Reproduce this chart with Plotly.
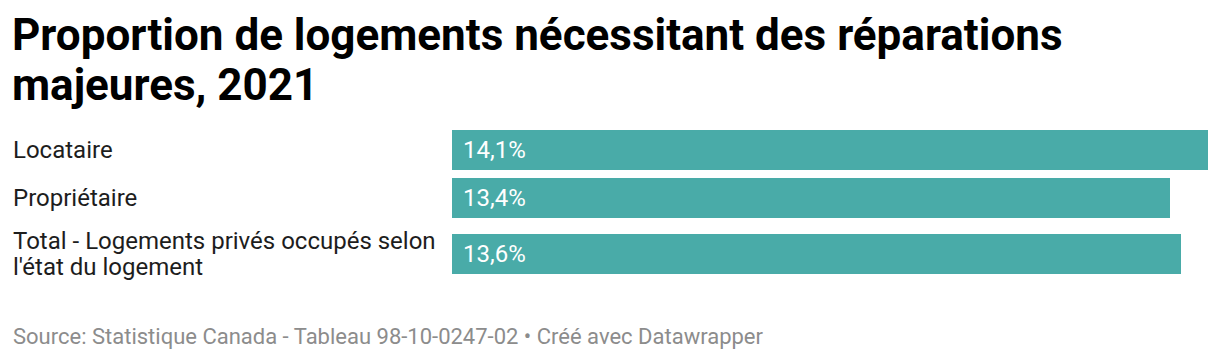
import plotly.graph_objects as go

categories = ["Locataire", "Propriétaire", "Total - Logements privés occupés selon<br>l'état du logement"]
values = [14.1, 13.4, 13.6]
title_lines = ["Proportion de logements nécessitant des réparations", "majeures, 2021"]
source_text = "Source: Statistique Canada - Tableau 98-10-0247-02 • Créé avec Datawrapper"

W, H = 1220, 360
BAR_H = 40
GAP = 8
EXTRA_PER_LINE = 16
LABEL_LINE = 26
FONT = "Roboto, 'Open Sans', sans-serif"
BAR_COLOR = "#49aba8"

# compute row centers from label line counts (layout, pixel units)
centers = []
top = 130
for c in categories:
    nlines = c.count("<br>") + 1
    extra = (nlines - 1) * EXTRA_PER_LINE
    centers.append(top + extra / 2 + BAR_H / 2)
    top += BAR_H + extra + GAP

fig = go.Figure()
fig.add_trace(go.Bar(
    x=values, y=centers, orientation="h", width=BAR_H,
    marker=dict(color=BAR_COLOR, line=dict(width=0)),
    hoverinfo="skip",
))

ann = []
for c, v, yc in zip(categories, values, centers):
    lines = c.split("<br>")
    n = len(lines)
    for i, ln in enumerate(lines):
        ly = yc + (i - (n - 1) / 2) * LABEL_LINE
        ann.append(dict(x=12 / W, xref="paper", y=ly, yref="y", text=ln, showarrow=False,
                        xanchor="left", yanchor="middle", align="left", xshift=-1,
                        font=dict(family=FONT, size=24, color="#1d1d1d")))
    ann.append(dict(x=0, xref="x", y=yc, yref="y", text=f"{v:.1f}".replace(".", ",") + "%",
                    showarrow=False, xanchor="left", yanchor="middle", xshift=9,
                    font=dict(family=FONT, size=24, color="#ffffff")))

for i, t in enumerate(title_lines):
    ann.append(dict(x=12 / W, xref="paper", y=1 - (35 + 50 * i) / H, yref="paper", text="<b>" + t + "</b>",
                    showarrow=False, xanchor="left", yanchor="middle", align="left", xshift=-2,
                    font=dict(family=FONT, size=44, color="#000000")))
ann.append(dict(x=12 / W, xref="paper", y=1 - 336 / H, yref="paper", text=source_text,
                showarrow=False, xanchor="left", yanchor="middle", align="left", xshift=-1,
                font=dict(family=FONT, size=22, color="#8c8c8c")))

fig.update_layout(
    width=W, height=H,
    margin=dict(l=0, r=0, t=0, b=0),
    paper_bgcolor="white", plot_bgcolor="white",
    showlegend=False,
    xaxis=dict(domain=[452 / W, 1208 / W], range=[0, max(values)], visible=False, fixedrange=True),
    yaxis=dict(range=[H, 0], visible=False, fixedrange=True),
    annotations=ann,
    bargap=0,
)

fig.write_html("out.html", config={"displayModeBar": False},
               post_script="document.body.style.margin='0';document.body.style.overflow='hidden';")
